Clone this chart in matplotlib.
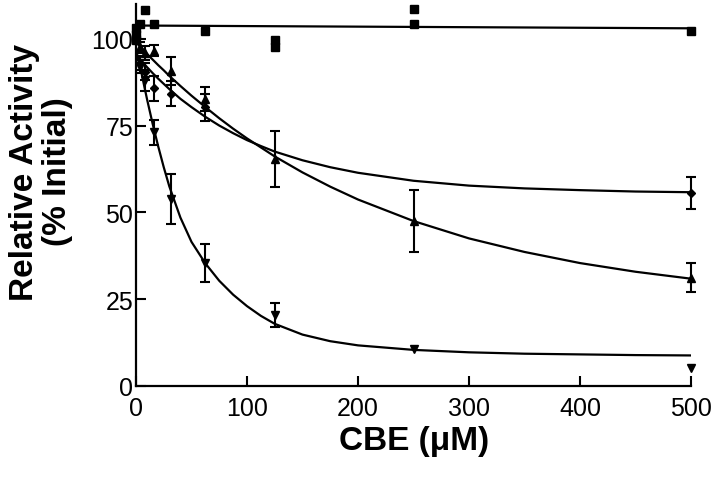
import numpy as np
import matplotlib
matplotlib.use("Agg")
import matplotlib.pyplot as plt

plt.rcParams['font.family'] = ['Liberation Sans', 'DejaVu Sans']

# control (squares), no inhibition
ctrl_x = [0, 0, 0, 4, 8, 16, 62.5, 125, 125, 250, 250, 500]
ctrl_y = [99.5, 101, 103, 104.3, 108.2, 104.3, 102.2, 97.5, 99.5, 108.5, 104.3, 102.3]
ctrl_fit_x = [0, 500]
ctrl_fit_y = [103.8, 103.0]

# triangles up
tri_x = [0, 4, 8, 16, 31.25, 62.5, 125, 250, 500]
tri_y = [100, 97.5, 96, 96.6, 90.6, 82.7, 65.3, 47.5, 31.2]
tri_err = [0, 1.5, 2, 1.5, 4, 3.5, 8, 9, 4.2]

# diamonds
dia_x = [0, 4, 8, 16, 31.25, 62.5, 500]
dia_y = [100, 93, 90.5, 85.7, 84.1, 80.2, 55.6]
dia_err = [0, 2, 2.5, 3.6, 3.6, 3.8, 4.7]

# triangles down
dn_x = [0, 4, 8, 16, 31.25, 62.5, 125, 250, 500]
dn_y = [100, 92, 88, 73, 53.8, 35.4, 20.5, 10.6, 5.2]
dn_err = [0, 2, 3, 3.7, 7.2, 5.4, 3.4, 0, 0]

# fitted curves
fit_x = [0, 5, 10, 15, 20, 25, 30, 40, 50, 62.5, 75, 87.5, 100, 112.5, 125,
         150, 175, 200, 250, 300, 350, 400, 450, 500]
tri_fit = [99.0, 97.3, 95.6, 94.0, 92.4, 90.9, 89.3, 86.4, 83.6, 80.3, 77.1, 74.1, 71.3, 68.7, 66.1,
           61.5, 57.4, 53.7, 47.5, 42.5, 38.6, 35.4, 32.9, 30.9]
dia_fit = [95.5, 93.6, 91.8, 90.1, 88.5, 87.0, 85.5, 82.7, 80.3, 77.5, 75.0, 72.8, 70.8, 69.1, 67.5,
           65.0, 63.0, 61.4, 59.1, 57.7, 56.9, 56.4, 56.0, 55.8]
dn_fit = [97.0, 90.0, 82.5, 75.5, 69.0, 63.0, 57.5, 48.5, 41.5, 35.3, 30.3, 26.3, 23.0, 20.2, 17.9,
          14.8, 12.9, 11.7, 10.4, 9.7, 9.3, 9.1, 8.9, 8.8]

fig = plt.figure(figsize=(7.2, 4.85), dpi=100)
ax = fig.add_axes([136/720, 1 - 387/485, 555/720, 382/485])

lw = 1.6
ax.plot(ctrl_fit_x, ctrl_fit_y, color='black', lw=lw)
ax.plot(fit_x, tri_fit, color='black', lw=lw)
ax.plot(fit_x, dia_fit, color='black', lw=lw)
ax.plot(fit_x, dn_fit, color='black', lw=lw)

def draw(xs, ys, errs, marker, ms):
    xs = np.array(xs); ys = np.array(ys)
    ax.plot(xs, ys, ls='none', marker=marker, ms=ms, color='black', clip_on=False, zorder=4)
    if errs is not None:
        errs = np.array(errs)
        m = errs > 0
        ax.errorbar(xs[m], ys[m], yerr=errs[m], fmt='none', ecolor='black',
                    elinewidth=1.5, capsize=3.3, capthick=1.5, clip_on=False, zorder=3)

draw(ctrl_x, ctrl_y, None, 's', 5.8)
draw(tri_x, tri_y, tri_err, '^', 6)
draw(dia_x, dia_y, dia_err, 'D', 4.2)
draw(dn_x, dn_y, dn_err, 'v', 6)

ax.set_xlim(0, 500)
ax.set_ylim(0, 110)
ax.set_xticks([0, 100, 200, 300, 400, 500])
ax.set_yticks([0, 25, 50, 75, 100])
ax.tick_params(direction='in', length=7, width=1.5, labelsize=18)
ax.tick_params(axis='x', pad=7)
ax.tick_params(axis='y', pad=2)
for s in ['top', 'right']:
    ax.spines[s].set_visible(False)
for s in ['left', 'bottom']:
    ax.spines[s].set_linewidth(1.6)

fig.text(41/720, 1 - 172/485, 'Relative Activity\n(% Initial)', rotation=90,
         ha='center', va='center', fontsize=24, fontweight='bold',
         multialignment='center', linespacing=1.1)
fig.text(414/720, 1 - 442/485, 'CBE (\u03bcM)', ha='center', va='center',
         fontsize=24, fontweight='bold')

fig.savefig('out.png', dpi=100)
